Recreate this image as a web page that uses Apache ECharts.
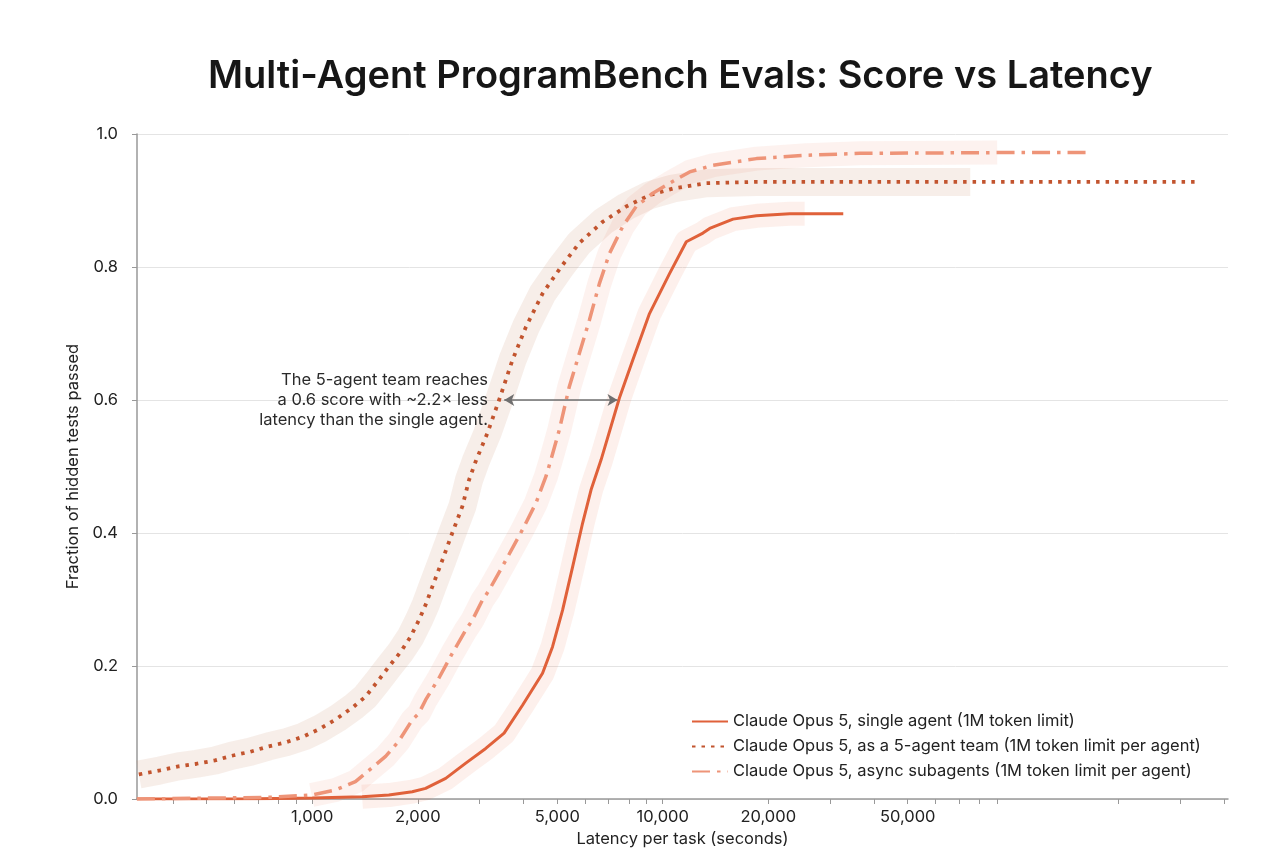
<!DOCTYPE html>
<html>
<head>
<meta charset="utf-8">
<script src="https://cdn.jsdelivr.net/npm/echarts@6/dist/echarts.min.js"></script>
<style>
html,body{margin:0;padding:0;background:#fff;}
#chart{width:1280px;height:864px;}
</style>
</head>
<body>
<div id="chart"></div>
<script>
// ---- data ----
const seriesNames = [
  'Claude Opus 5, single agent (1M token limit)',
  'Claude Opus 5, as a 5-agent team (1M token limit per agent)',
  'Claude Opus 5, async subagents (1M token limit per agent)'
];
const singleAgent = [
  [316,0],[700,0.0005],[1000,0.0015],[1388,0.0035],[1654,0.006],[1929,0.011],[2106,0.016],
  [2403,0.031],[2742,0.054],[3126,0.076],[3527,0.099],[3980,0.141],[4540,0.189],[4849,0.229],
  [5179,0.284],[5532,0.349],[5908,0.415],[6245,0.465],[6670,0.51],[7522,0.603],[8214,0.66],
  [9167,0.73],[10457,0.79],[11675,0.838],[13023,0.851],[13614,0.858],[15868,0.872],
  [18510,0.877],[23050,0.88],[25400,0.88],[32740,0.88]
];
const agentTeam = [
  [320,0.037],[368,0.043],[415,0.049],[468,0.053],[528,0.058],[589,0.065],[665,0.071],
  [750,0.079],[838,0.085],[945,0.094],[1055,0.106],[1177,0.121],[1314,0.139],[1419,0.154],
  [1532,0.176],[1654,0.199],[1786,0.221],[1908,0.244],[2015,0.269],[2106,0.292],[2200,0.319],
  [2350,0.359],[2509,0.40],[2681,0.44],[2802,0.48],[2928,0.508],[3160,0.55],[3413,0.60],
  [3726,0.66],[4071,0.71],[4540,0.76],[5125,0.80],[5781,0.836],[6742,0.868],[7864,0.891],
  [9167,0.908],[10690,0.918],[13320,0.926],[18510,0.928],[36560,0.928],[75400,0.928],[332000,0.928]
];
const asyncSub = [
  [316,0],[750,0.0025],[996,0.006],[1164,0.0135],[1328,0.026],[1482,0.047],[1619,0.064],
  [1766,0.087],[1929,0.119],[2015,0.129],[2106,0.149],[2299,0.182],[2509,0.219],[2742,0.254],
  [2863,0.269],[3058,0.299],[3196,0.314],[3567,0.359],[3980,0.405],[4347,0.445],[4643,0.485],
  [4797,0.51],[5068,0.555],[5413,0.62],[5781,0.67],[6175,0.72],[6595,0.775],[7044,0.82],
  [7689,0.861],[8400,0.891],[9370,0.911],[10457,0.926],[11930,0.943],[13910,0.953],
  [18510,0.963],[25730,0.968],[36560,0.971],[90000,0.972],[163000,0.972]
];
// latency range covered by each shaded band
const bandStarts = [1388, 316, 996];
const bandEnds = [25400, 75400, 90000];
// x-axis labels and ticks
const xLabelValues = [1000, 2000, 5000, 10000, 20000, 50000];
const xTickValues = [400,500,600,700,800,900,1000,2000,3000,4000,5000,6000,7000,8000,9000,
  10000,20000,30000,40000,50000,60000,70000,80000,90000,200000,300000,400000];
const xRange = [316.23, 410000];
// annotation arrow (latency at score 0.6 for team vs single agent)
const arrowFrom = [3530, 0.6];
const arrowTo = [7430, 0.6];
const annotationText = 'The 5-agent team reaches\na 0.6 score with ~2.2× less\nlatency than the single agent.';

// ---- styles ----
const FONT = 'Inter, "Noto Sans", sans-serif';
const FS = 16.5;
const lineColors = ['#E0613A', '#C2542E', '#EE9478'];
const bandColors = ['rgba(235,110,70,0.10)', 'rgba(200,140,110,0.15)', 'rgba(240,125,95,0.10)'];
const lineTypes = ['solid', [3.5, 6], [18, 7, 3.5, 7]];
const lineWidths = [3, 3.8, 3.5];
const bandWidths = [24, 28, 24];
const allData = [singleAgent, agentTeam, asyncSub];

const series = [];
allData.forEach((d, i) => {
  series.push({
    name: 'band' + i,
    type: 'line',
    data: d.filter(p => p[0] >= bandStarts[i] && p[0] <= bandEnds[i]),
    symbol: 'none',
    silent: true,
    z: 1,
    lineStyle: { color: bandColors[i], width: bandWidths[i], cap: 'butt', join: 'round' },
    emphasis: { disabled: true }
  });
});
allData.forEach((d, i) => {
  const s = {
    name: seriesNames[i],
    type: 'line',
    data: d,
    symbol: 'none',
    z: 3,
    lineStyle: { color: lineColors[i], width: lineWidths[i], type: lineTypes[i] },
    itemStyle: { color: lineColors[i] },
    emphasis: { disabled: true }
  };
  if (i === 0) {
    s.markLine = {
      silent: true,
      symbol: ['arrow', 'arrow'],
      symbolSize: [9, 10],
      label: { show: false },
      lineStyle: { color: '#6f6f6f', width: 1.5, type: 'solid' },
      data: [[{ coord: arrowFrom }, { coord: arrowTo }]]
    };
  }
  series.push(s);
});

const chart = echarts.init(document.getElementById('chart'), null, { renderer: 'canvas' });
chart.setOption({
  animation: false,
  backgroundColor: '#ffffff',
  textStyle: { fontFamily: FONT },
  title: {
    text: 'Multi-Agent ProgramBench Evals: Score vs Latency',
    left: 203,
    top: 53,
    textStyle: { fontFamily: FONT, fontSize: 38, fontWeight: 600, color: '#161616' }
  },
  grid: { left: 137, right: 52, top: 134, bottom: 65, outerBoundsMode: 'none' },
  legend: {
    data: seriesNames,
    orient: 'vertical',
    left: 686,
    top: 708,
    itemWidth: 36,
    itemHeight: 12,
    itemGap: 8,
    itemStyle: { opacity: 0 },
    textStyle: { fontFamily: FONT, fontSize: FS, color: '#222' },
    selectedMode: false
  },
  xAxis: {
    type: 'log',
    logBase: 10,
    min: xRange[0],
    max: xRange[1],
    name: 'Latency per task (seconds)',
    nameLocation: 'middle',
    nameGap: 32,
    nameTextStyle: { fontFamily: FONT, fontSize: FS, color: '#222' },
    axisLine: { show: true, lineStyle: { color: '#999', width: 1.5 } },
    axisTick: { show: true, length: 5, lineStyle: { color: '#999' }, customValues: xTickValues },
    axisLabel: {
      customValues: xLabelValues,
      margin: 10,
      fontFamily: FONT, fontSize: FS, color: '#222',
      formatter: v => Math.round(v).toLocaleString('en-US')
    },
    splitLine: { show: false },
    minorTick: { show: false }
  },
  yAxis: {
    type: 'value',
    min: 0,
    max: 1,
    interval: 0.2,
    name: 'Fraction of hidden tests passed',
    nameLocation: 'middle',
    nameGap: 50,
    nameRotate: 90,
    nameTextStyle: { fontFamily: FONT, fontSize: FS, color: '#222' },
    axisLine: { show: true, lineStyle: { color: '#999', width: 1.5 } },
    axisTick: { show: true, length: 5, lineStyle: { color: '#999' } },
    axisLabel: { margin: 19, fontFamily: FONT, fontSize: FS, color: '#222', formatter: v => v.toFixed(1) },
    splitLine: { show: true, lineStyle: { color: '#e4e4e4', width: 1 } }
  },
  graphic: [{
    type: 'text',
    style: {
      x: 488, y: 400,
      text: annotationText,
      align: 'right',
      verticalAlign: 'middle',
      lineHeight: 20,
      font: FS + 'px ' + FONT,
      fill: '#2a2a2a'
    },
    z: 10
  }],
  series: series
});
</script>
</body>
</html>
